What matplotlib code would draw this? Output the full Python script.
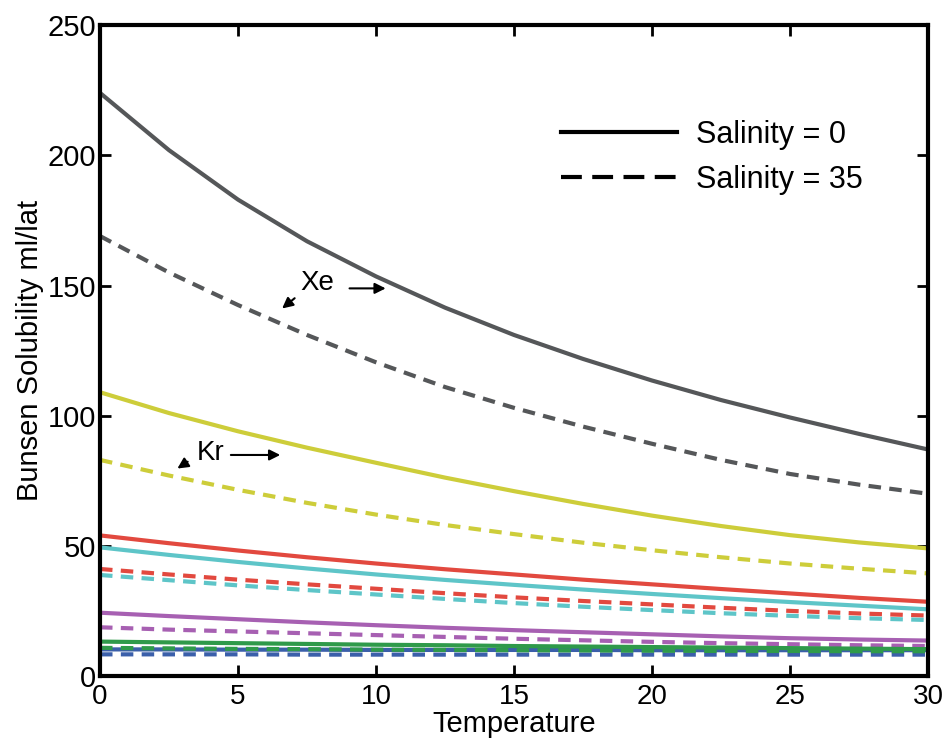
import matplotlib
matplotlib.use("Agg")
import matplotlib.pyplot as plt
from matplotlib.lines import Line2D

temperature = [0, 2.5, 5, 7.5, 10, 12.5, 15, 17.5, 20, 22.5, 25, 27.5, 30]

xe_s0 = [224, 202, 183, 167, 153.5, 141.5, 131, 121.8, 113.5, 106, 99.3, 93, 87]
xe_s35 = [169, 155, 142.5, 131, 120.5, 111, 103, 95.8, 89.2, 83, 77.6, 73.5, 70]
kr_s0 = [109, 101, 94, 87.7, 81.9, 76.2, 71, 66.1, 61.6, 57.6, 54.1, 51.3, 49]
kr_s35 = [83, 77, 71.5, 66.5, 62, 58, 54.5, 51.2, 48.3, 45.6, 43.2, 41.2, 39.4]
ar_s0 = [54, 51, 48.2, 45.6, 43.2, 41, 39, 37, 35.2, 33.4, 31.7, 30, 28.5]
ar_s35 = [41.1, 39, 37, 35.2, 33.5, 31.8, 30.2, 28.8, 27.5, 26.2, 25, 24, 23.2]
o2_s0 = [49.4, 46.5, 43.8, 41.3, 39, 36.9, 35, 33.2, 31.5, 29.9, 28.4, 27, 25.6]
o2_s35 = [38.8, 36.8, 34.8, 33, 31.3, 29.6, 28, 26.6, 25.3, 24.1, 23.1, 22.2, 21.5]
n2_s0 = [24.3, 23, 21.8, 20.6, 19.5, 18.5, 17.6, 16.8, 16, 15.2, 14.5, 14, 13.6]
n2_s35 = [18.7, 17.8, 17.1, 16.4, 15.7, 15, 14.3, 13.7, 13.1, 12.6, 12.2, 11.8, 11.5]
ne_s0 = [13.2, 12.9, 12.6, 12.3, 12.0, 11.8, 11.5, 11.3, 11.1, 10.9, 10.7, 10.5, 10.3]
ne_s35 = [10.8, 10.6, 10.4, 10.3, 10.1, 10.0, 9.9, 9.8, 9.7, 9.6, 9.6, 9.5, 9.5]
he_s0 = [10.2, 10.2, 10.1, 10.1, 10.0, 10.0, 10.0, 10.0, 9.9, 9.9, 9.9, 9.9, 9.9]
he_s35 = [8.3, 8.3, 8.3, 8.2, 8.2, 8.2, 8.2, 8.2, 8.2, 8.2, 8.2, 8.2, 8.2]

series = [
    (xe_s0, xe_s35, "#555759"),
    (kr_s0, kr_s35, "#cdcd3a"),
    (ar_s0, ar_s35, "#e2493f"),
    (o2_s0, o2_s35, "#5ec5c8"),
    (n2_s0, n2_s35, "#a760b2"),
    (he_s0, he_s35, "#3b5faa"),
    (ne_s0, ne_s35, "#2f9a4a"),
]

xticks = [0, 5, 10, 15, 20, 25, 30]
yticks = [0, 50, 100, 150, 200, 250]
legend_labels = ["Salinity = 0", "Salinity = 35"]

fam = ["Liberation Sans", "DejaVu Sans"]

fig = plt.figure(figsize=(9.47, 7.42), dpi=100)
ax = fig.add_axes([0.1056, 0.089, 0.8744, 0.877])

for s0, s35, c in series:
    ax.plot(temperature, s0, color=c, lw=3, solid_capstyle="butt", solid_joinstyle="round")
    ax.plot(temperature, s35, color=c, lw=3, linestyle=(0, (3, 2)), dash_capstyle="butt")

ax.set_xlim(0, 30)
ax.set_ylim(0, 250)
ax.set_xticks(xticks)
ax.set_yticks(yticks)
ax.set_xticklabels([str(t) for t in xticks], family=fam, fontsize=20)
ax.set_yticklabels([str(t) for t in yticks], family=fam, fontsize=21)
ax.tick_params(direction="in", length=8, width=2, top=True, right=True)
ax.tick_params(axis="y", pad=3)
ax.tick_params(axis="x", pad=6)
for sp in ax.spines.values():
    sp.set_linewidth(3)

ax.set_xlabel("Temperature", family=fam, fontsize=21, labelpad=0)
ax.set_ylabel("Bunsen Solubility ml/lat", family=fam, fontsize=21, labelpad=2)

handles = [Line2D([], [], color="black", lw=3),
           Line2D([], [], color="black", lw=3, linestyle=(0, (5, 2.5)))]
ax.legend(handles, legend_labels, loc="upper left",
          bbox_to_anchor=(0.557, 0.855), frameon=False, borderpad=0, borderaxespad=0,
          handlelength=3.8, handletextpad=0.6, labelspacing=0.5,
          prop={"family": fam, "size": 22})

arrow = dict(arrowstyle="-|>", color="black", lw=1.5, mutation_scale=16)
ax.text(7.88, 150.9, "Xe", ha="center", va="center", fontsize=20, family=fam)
ax.annotate("", xy=(10.45, 148.9), xytext=(8.94, 148.9), arrowprops=arrow)
ax.annotate("", xy=(6.52, 140.5), xytext=(7.13, 145.8), arrowprops=arrow)
ax.text(3.99, 85.8, "Kr", ha="center", va="center", fontsize=20, family=fam)
ax.annotate("", xy=(6.63, 84.9), xytext=(4.64, 84.9), arrowprops=arrow)
ax.annotate("", xy=(2.72, 79.1), xytext=(3.26, 82.9), arrowprops=arrow)

fig.savefig("out.png", dpi=100)
